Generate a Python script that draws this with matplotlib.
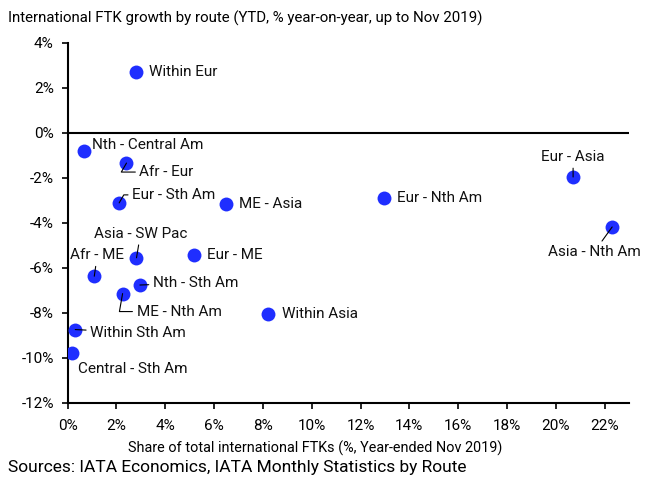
import matplotlib
matplotlib.use("Agg")
import matplotlib.pyplot as plt
from matplotlib.ticker import FuncFormatter, MultipleLocator

plt.rcParams['font.family'] = ['Roboto', 'DejaVu Sans']

routes = ["Within Eur", "Nth - Central Am", "Afr - Eur", "Eur - Sth Am", "ME - Asia",
          "Asia - SW Pac", "Eur - ME", "Afr - ME", "Nth - Sth Am", "ME - Nth Am",
          "Within Asia", "Within Sth Am", "Central - Sth Am", "Eur - Nth Am",
          "Eur - Asia", "Asia - Nth Am"]
share = [2.79, 0.68, 2.41, 2.11, 6.49, 2.82, 5.17, 1.09, 2.96, 2.25,
         8.22, 0.31, 0.16, 12.98, 20.71, 22.31]
growth = [2.70, -0.80, -1.35, -3.12, -3.15, -5.56, -5.45, -6.38, -6.77, -7.15,
          -8.04, -8.75, -9.78, -2.89, -1.97, -4.19]

# label offsets in pixels (dx, dy), horizontal alignment, leader line
label_style = {
    "Within Eur": ((13, 0), "left", None),
    "Nth - Central Am": ((8, 6), "left", None),
    "Afr - Eur": ((13, -9), "left", "angle,angleA=0,angleB=60,rad=0"),
    "Eur - Sth Am": ((13, 8), "left", "angle,angleA=0,angleB=60,rad=0"),
    "ME - Asia": ((13, 0), "left", None),
    "Asia - SW Pac": ((4, 24), "center", "arc3"),
    "Eur - ME": ((13, 0), "left", None),
    "Afr - ME": ((3, 21), "center", "arc3"),
    "Nth - Sth Am": ((13, 2), "left", "arc3"),
    "ME - Nth Am": ((14, -18), "left", "angle,angleA=0,angleB=80,rad=0"),
    "Within Asia": ((14, 0), "left", None),
    "Within Sth Am": ((15, -3), "left", "arc3"),
    "Central - Sth Am": ((6, -16), "left", None),
    "Eur - Nth Am": ((13, 0), "left", None),
    "Eur - Asia": ((0, 20), "center", "arc3"),
    "Asia - Nth Am": ((-18, -25), "center", "arc3"),
}

fig = plt.figure(figsize=(6.52, 4.79), dpi=100)
ax = fig.add_axes([0.1038, 0.1593, 0.8609, 0.7516])

ax.plot(share, growth, 'o', color='#1F2EFF', markersize=10, markeredgewidth=0, zorder=3)
ax.axhline(0, color='black', linewidth=1.5, zorder=2)

for r, x, y in zip(routes, share, growth):
    (dx, dy), ha, cs = label_style[r]
    kw = {}
    if cs is not None:
        kw['arrowprops'] = dict(arrowstyle='-', color='black', lw=0.8,
                                shrinkA=1, shrinkB=0, connectionstyle=cs)
    ax.annotate(r, xy=(x, y), xytext=(dx, dy), textcoords='offset pixels',
                ha=ha, va='center', fontsize=11, color='#111111', zorder=4, **kw)

ax.set_xlim(0, 23)
ax.set_ylim(-12, 4)
ax.xaxis.set_major_locator(MultipleLocator(2))
ax.yaxis.set_major_locator(MultipleLocator(2))
ax.xaxis.set_major_formatter(FuncFormatter(lambda v, p: f"{v:.0f}%"))
ax.yaxis.set_major_formatter(FuncFormatter(lambda v, p: f"{v:.0f}%"))
for s in ['top', 'right']:
    ax.spines[s].set_visible(False)
for s in ['left', 'bottom']:
    ax.spines[s].set_linewidth(1.5)
ax.tick_params(axis='both', direction='out', length=4, width=1.2, labelsize=11,
               colors='black', pad=8)
ax.tick_params(axis='y', pad=6)

fig.text(0.012, 0.962, "International FTK growth by route (YTD, % year-on-year, up to Nov 2019)",
         fontsize=10.8, ha='left', va='center')
fig.text(0.483, 0.063, "Share of total international FTKs (%, Year-ended Nov 2019)",
         fontsize=10.4, ha='center', va='center')
fig.text(0.012, 0.023, "Sources: IATA Economics, IATA Monthly Statistics by Route",
         fontsize=12.5, ha='left', va='center')

fig.savefig("out.png", dpi=100)
